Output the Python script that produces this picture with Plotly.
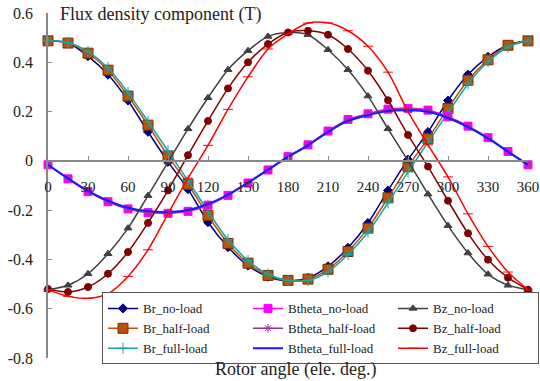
import plotly.graph_objects as go

angle = list(range(0, 361, 15))

br_no = [0.487, 0.478, 0.425, 0.350, 0.245, 0.118, -0.004, -0.115, -0.249, -0.350, -0.425, -0.470, -0.487,
         -0.475, -0.428, -0.353, -0.252, -0.120, 0.005, 0.117, 0.245, 0.350, 0.422, 0.470, 0.487]
br_half = [0.487, 0.478, 0.437, 0.368, 0.263, 0.145, 0.020, -0.095, -0.222, -0.335, -0.415, -0.465, -0.485,
           -0.480, -0.440, -0.368, -0.273, -0.150, -0.023, 0.090, 0.213, 0.327, 0.410, 0.469, 0.487]
br_full = [0.487, 0.480, 0.443, 0.378, 0.277, 0.160, 0.040, -0.080, -0.205, -0.320, -0.405, -0.460, -0.485,
           -0.485, -0.450, -0.380, -0.290, -0.170, -0.045, 0.075, 0.195, 0.312, 0.402, 0.462, 0.487]

bt_no = [-0.016, -0.073, -0.125, -0.166, -0.195, -0.210, -0.213, -0.205, -0.180, -0.140, -0.090, -0.037, 0.017,
         0.065, 0.121, 0.168, 0.191, 0.210, 0.213, 0.206, 0.179, 0.141, 0.094, 0.038, -0.016]
bt_half = [-0.016, -0.072, -0.124, -0.165, -0.194, -0.208, -0.211, -0.203, -0.178, -0.139, -0.089, -0.036, 0.017,
           0.065, 0.120, 0.166, 0.189, 0.207, 0.210, 0.203, 0.177, 0.140, 0.093, 0.038, -0.016]
bt_full = [-0.016, -0.071, -0.122, -0.162, -0.190, -0.204, -0.207, -0.199, -0.175, -0.137, -0.088, -0.036, 0.016,
           0.063, 0.117, 0.162, 0.185, 0.202, 0.205, 0.199, 0.174, 0.137, 0.091, 0.037, -0.016]

bz_no = [-0.523, -0.505, -0.458, -0.377, -0.273, -0.141, -0.005, 0.130, 0.256, 0.370, 0.447, 0.505, 0.521,
         0.512, 0.451, 0.370, 0.263, 0.130, 0.000, -0.135, -0.263, -0.374, -0.460, -0.505, -0.523]
bz_half = [-0.520, -0.532, -0.512, -0.458, -0.370, -0.252, -0.120, 0.023, 0.162, 0.294, 0.400, 0.474, 0.521,
           0.528, 0.512, 0.454, 0.366, 0.246, 0.105, -0.023, -0.162, -0.294, -0.401, -0.474, -0.523]
bz_full = [-0.523, -0.550, -0.558, -0.539, -0.469, -0.361, -0.215, -0.070, 0.063, 0.209, 0.341, 0.454, 0.515,
           0.559, 0.560, 0.528, 0.465, 0.360, 0.200, 0.065, -0.065, -0.215, -0.347, -0.451, -0.523]

series_names = ["Br_no-load", "Br_half-load", "Br_full-load",
                "Btheta_no-load", "Btheta_half-load", "Btheta_full-load",
                "Bz_no-load", "Bz_half-load", "Bz_full-load"]
series_values = [br_no, br_half, br_full, bt_no, bt_half, bt_full, bz_no, bz_half, bz_full]

y_tick_vals = [0.6, 0.4, 0.2, 0, -0.2, -0.4, -0.6, -0.8]
y_tick_text = ["0.6", "0.4", "0.2", "0", "-0.2", "-0.4", "-0.6", "-0.8"]
x_tick_vals = list(range(0, 361, 30))

styles = [
    dict(color="#000080", symbol="diamond", size=7, lw=1.5, mline=None),
    dict(color="#B8520C", symbol="square", size=10, lw=1.5, mline="#7A3000"),
    dict(color="#1AA3A3", symbol="cross-thin-open", size=8, lw=1.5, mline=None),
    dict(color="#FF00FF", symbol="square", size=8, lw=1.5, mline=None),
    dict(color="#993399", symbol="asterisk-open", size=7, lw=1.5, mline=None),
    dict(color="#1A1AFF", symbol=None, size=0, lw=2, mline=None),
    dict(color="#404040", symbol="triangle-up", size=7, lw=1.5, mline=None),
    dict(color="#800000", symbol="circle", size=7, lw=1.5, mline=None),
    dict(color="#FF0000", symbol="line-ew-open", size=7, lw=1.5, mline=None),
]
# column-major legend (3 columns: Br, Btheta, Bz) laid out row by row
legend_rank = [1, 4, 7, 2, 5, 8, 3, 6, 9]

fig = go.Figure()
for name, vals, st, rank in zip(series_names, series_values, styles, legend_rank):
    if st["symbol"] is None:
        mode = "lines"
        marker = None
    else:
        mode = "lines+markers"
        marker = dict(symbol=st["symbol"], size=st["size"], color=st["color"],
                      line=dict(color=st["mline"] or st["color"], width=1))
    fig.add_trace(go.Scatter(
        x=angle, y=vals, name=name, mode=mode,
        line=dict(color=st["color"], width=st["lw"], shape="spline", smoothing=0.8),
        marker=marker, legendrank=rank, cliponaxis=False,
    ))

fig.update_layout(
    width=540, height=381,
    margin=dict(l=48, r=12, t=13, b=23, autoexpand=False),
    paper_bgcolor="white", plot_bgcolor="white",
    font=dict(family="Liberation Serif", size=16, color="#222222"),
    showlegend=True,
    legend=dict(
        orientation="h", x=0.1125, y=0.19, xanchor="left", yanchor="top",
        bgcolor="white", bordercolor="#555555", borderwidth=1,
        font=dict(family="Liberation Serif", size=13, color="#222222"),
        entrywidth=100, itemwidth=30, traceorder="normal",
    ),
    xaxis=dict(
        range=[0, 360], tickvals=x_tick_vals, ticks="inside", ticklen=4,
        tickcolor="#888888", showline=True, linecolor="#888888", linewidth=1.5,
        showgrid=False, zeroline=False, anchor="free", position=0.8 / 1.4,
        ticklabelstandoff=12, tickfont=dict(size=15), ticklabeloverflow="allow",
    ),
    yaxis=dict(
        range=[-0.8, 0.6], tickvals=y_tick_vals, ticktext=y_tick_text,
        ticks="inside", ticklen=4, tickcolor="#888888",
        showline=True, linecolor="#888888", linewidth=1.5,
        showgrid=False, zeroline=False, ticklabelstandoff=10, tickfont=dict(size=16),
        ticklabeloverflow="allow",
    ),
    annotations=[
        dict(text="Flux density component (T)", xref="paper", yref="paper",
             x=0.021, y=0.995, xanchor="left", yanchor="middle", showarrow=False,
             font=dict(size=18)),
        dict(text="Rotor angle (ele. deg.)", xref="paper", yref="paper",
             x=0.5146, y=-0.0333, xanchor="center", yanchor="middle", showarrow=False,
             font=dict(size=18)),
    ],
)

# remove the page's default body margin so the 540x381 figure fills the window exactly
fig.write_html("out.html", config={"displayModeBar": False},
               post_script="document.body.style.margin='0px';")
